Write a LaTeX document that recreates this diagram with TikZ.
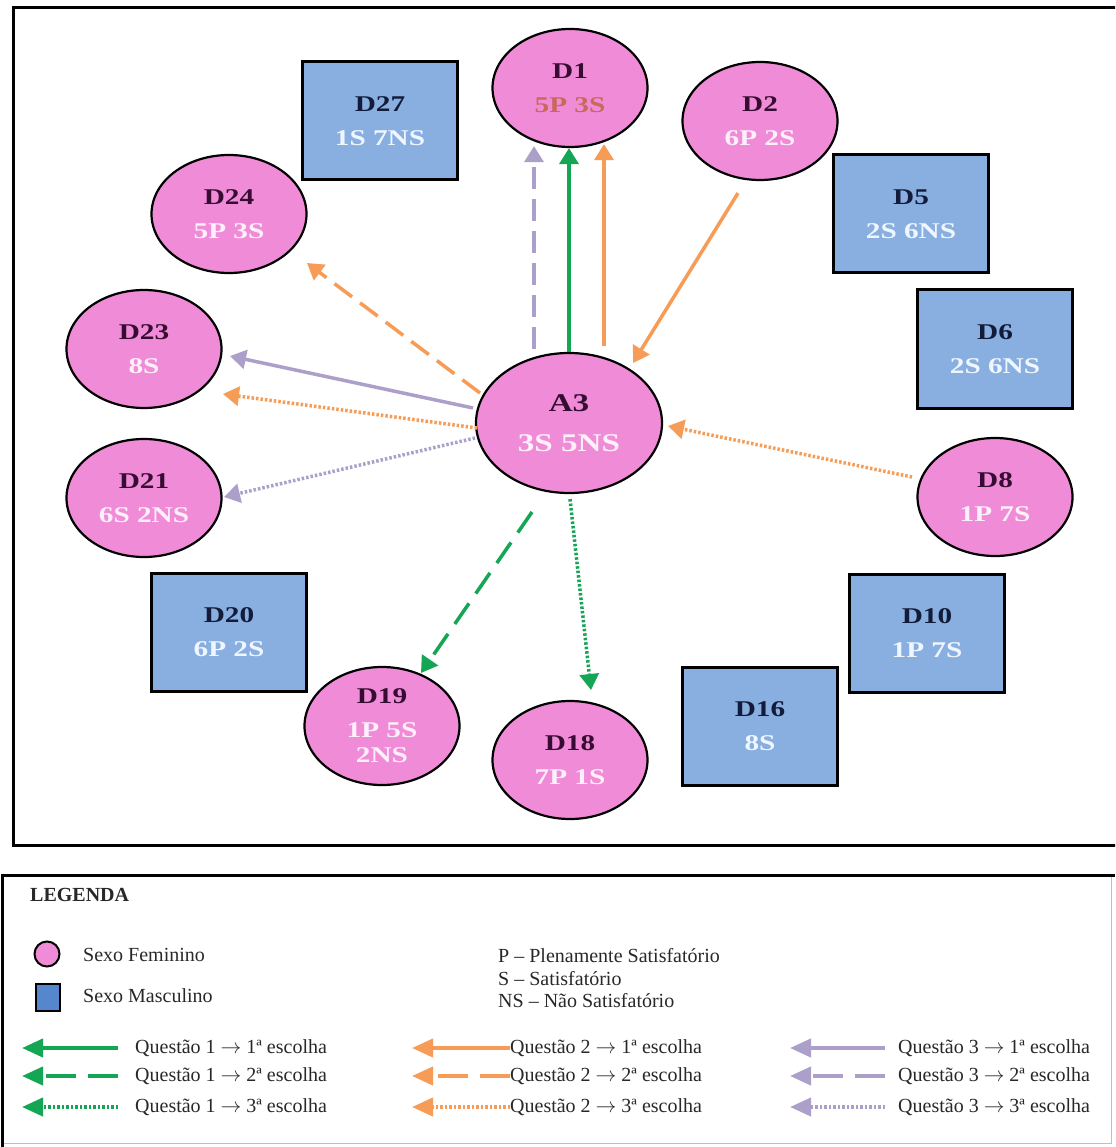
\documentclass[tikz,border=0pt]{standalone}
\usepackage{fontspec}
\setmainfont{Liberation Serif}
\newfontfamily\nodefont[FakeStretch=1.3]{Liberation Serif}
\usetikzlibrary{shapes.geometric,arrows.meta,calc}
\definecolor{pinkf}{RGB}{240,140,215}
\definecolor{bluef}{RGB}{137,175,225}
\definecolor{legblue}{RGB}{86,135,205}
\definecolor{ttlpink}{RGB}{55,12,50}
\definecolor{ttlblue}{RGB}{18,28,58}
\definecolor{subpink}{RGB}{253,240,250}
\definecolor{subblue}{RGB}{240,246,255}
\definecolor{subred}{RGB}{200,105,90}
\definecolor{qgreen}{RGB}{20,165,85}
\definecolor{qorange}{RGB}{246,156,86}
\definecolor{qpurple}{RGB}{172,160,202}
\definecolor{legtext}{RGB}{40,40,40}
\newcommand\femtxt[2]{\textcolor{ttlpink}{#1}\\\textcolor{subpink}{#2}}
\newcommand\mastxt[2]{\textcolor{ttlblue}{#1}\\\textcolor{subblue}{#2}}
\newcommand\qarr{$\rightarrow$}
\begin{document}
\begin{tikzpicture}[x=1pt,y=-1pt,
  fem/.style={ellipse, draw=black, line width=2.2pt, fill=pinkf,
    minimum width=155pt, minimum height=118pt, inner sep=0pt, align=center,
    font=\nodefont\bfseries\fontsize{22.5}{34}\selectfont},
  masc/.style={rectangle, draw=black, line width=3pt, fill=bluef,
    minimum width=155pt, minimum height=118pt, inner sep=0pt, align=center,
    font=\nodefont\bfseries\fontsize{22.5}{34}\selectfont},
  conn/.style={line width=3.5pt, -{Triangle[length=16pt,width=19pt]}},
  longdash/.style={dash pattern=on 22pt off 10pt},
  fine/.style={dash pattern=on 2.5pt off 2pt},
  legarrow/.style={line width=4pt, -{Triangle[length=21pt,width=18pt]}},
  legdash/.style={dash pattern=on 30pt off 12pt},
  legtxt/.style={anchor=west, inner sep=0pt, text=legtext,
    font=\fontsize{20}{23}\selectfont}
]
\useasboundingbox (0,0) rectangle (1115,1147);
\clip (0,0) rectangle (1115,1147);
\fill[white] (0,0) rectangle (1115,1147);

% main frame
\draw[line width=3pt] (13,8) rectangle (1125,845);

% nodes
\node[fem] (D1) at (570,88) {\textcolor{ttlpink}{D1}\\\textcolor{subred}{5P 3S}};
\node[fem] (D2) at (760,121) {\femtxt{D2}{6P 2S}};
\node[masc] (D27) at (380,121) {\mastxt{D27}{1S 7NS}};
\node[fem] (D24) at (229,214) {\femtxt{D24}{5P 3S}};
\node[masc] (D5) at (911,214) {\mastxt{D5}{2S 6NS}};
\node[fem] (D23) at (144,349) {\femtxt{D23}{8S}};
\node[masc] (D6) at (995,349) {\mastxt{D6}{2S 6NS}};
\node[fem, minimum width=186pt, minimum height=140pt,
  font=\nodefont\bfseries\fontsize{25.5}{40}\selectfont] (A3) at (569,423) {\femtxt{A3}{3S 5NS}};
\node[fem] (D21) at (144,498) {\femtxt{D21}{6S 2NS}};
\node[fem] (D8) at (995,497) {\femtxt{D8}{1P 7S}};
\node[masc] (D20) at (229,632) {\mastxt{D20}{6P 2S}};
\node[masc] (D10) at (927,633) {\mastxt{D10}{1P 7S}};
\node[masc] (D16) at (760,726) {\mastxt{D16}{8S}};
\node[fem] (D19) at (382,726) {\textcolor{ttlpink}{D19}\\\textcolor{subpink}{1P 5S}\\[-9pt]\textcolor{subpink}{2NS}};
\node[fem] (D18) at (570,760) {\femtxt{D18}{7P 1S}};

% connectors
\draw[conn, qgreen] (A3.north) -- (A3.north |- D1.south);
\draw[conn, qorange] ($(A3.north)+(35,-6)$) -- ($(D1.south)+(34,-4)$);
\draw[conn, qpurple, longdash] ($(A3.north)+(-35,-3)$) -- ($(D1.south)+(-36,-2)$);
\draw[conn, qorange] ($(D2.south)+(-22,12)$) -- ($(A3)+(64,-60)$);
\draw[conn, qorange, longdash] ($(A3)+(-89,-30)$) -- ($(D24)+(78,49)$);
\draw[conn, qpurple] ($(A3)+(-96,-15)$) -- ($(D23)+(86,7)$);
\draw[conn, qorange, fine] ($(A3)+(-92,5)$) -- ($(D23)+(79,45)$);
\draw[conn, qpurple, fine] ($(A3)+(-94,15)$) -- ($(D21)+(80,-1)$);
\draw[conn, qorange, fine] ($(D8)+(-83,-20)$) -- ($(A3)+(99,3)$);
\draw[conn, qgreen, dash pattern=on 25pt off 12pt] ($(A3)+(-37,89)$) -- ($(D19)+(39,-53)$);
\draw[conn, qgreen, fine] ($(A3.south)+(1,5)$) -- ($(D18)+(21,-70)$);

% legend frame
\draw[black!25, line width=1pt] (1111,875) -- (1111,1143) -- (2,1143);
\draw[line width=3pt] (2,1150) -- (2,875) -- (1115,875);

\node[anchor=west, inner sep=0pt, text=legtext,
  font=\bfseries\fontsize{20}{23}\selectfont] (leg) at (30,895) {LEGENDA};
\node[circle, draw=black, line width=2pt, fill=pinkf, minimum size=25pt, inner sep=0pt] (lgf) at (47,954) {};
\node[rectangle, draw=black, line width=2pt, fill=legblue, minimum width=24pt, minimum height=27pt, inner sep=0pt] (lgm) at (48,997) {};
\node[legtxt] (tfem) at (83,955) {Sexo Feminino};
\node[legtxt] (tmas) at (83,996) {Sexo Masculino};
\node[legtxt] (tp) at (498,956) {P – Plenamente Satisfatório};
\node[legtxt] (ts) at (498,979) {S – Satisfatório};
\node[legtxt] (tns) at (498,1001) {NS – Não Satisfatório};

% legend rows
\node[legtxt] (q11) at (135,1048) {Questão 1 \qarr{} 1ª escolha};
\node[legtxt] (q12) at (135,1076) {Questão 1 \qarr{} 2ª escolha};
\node[legtxt] (q13) at (135,1107) {Questão 1 \qarr{} 3ª escolha};
\node[legtxt] (q21) at (510,1048) {Questão 2 \qarr{} 1ª escolha};
\node[legtxt] (q22) at (510,1076) {Questão 2 \qarr{} 2ª escolha};
\node[legtxt] (q23) at (510,1107) {Questão 2 \qarr{} 3ª escolha};
\node[legtxt] (q31) at (898,1048) {Questão 3 \qarr{} 1ª escolha};
\node[legtxt] (q32) at (898,1076) {Questão 3 \qarr{} 2ª escolha};
\node[legtxt] (q33) at (898,1107) {Questão 3 \qarr{} 3ª escolha};

\coordinate (a11) at (22,1048); \coordinate (b11) at (118,1048);
\coordinate (a12) at (22,1076); \coordinate (b12) at (118,1076);
\coordinate (a13) at (22,1107); \coordinate (b13) at (118,1107);
\coordinate (a21) at (412,1048);
\coordinate (a22) at (412,1076);
\coordinate (a23) at (412,1107);
\coordinate (a31) at (790,1048); \coordinate (b31) at (885,1048);
\coordinate (a32) at (790,1076); \coordinate (b32) at (885,1076);
\coordinate (a33) at (790,1107); \coordinate (b33) at (885,1107);

\draw[legarrow, qgreen] (b11) -- (a11);
\draw[legarrow, qgreen, legdash] (b12) -- (a12);
\draw[legarrow, qgreen, fine] (b13) -- (a13);
\draw[legarrow, qorange] (q21.west) -- (a21);
\draw[legarrow, qorange, legdash] (q22.west) -- (a22);
\draw[legarrow, qorange, fine] (q23.west) -- (a23);
\draw[legarrow, qpurple] (b31) -- (a31);
\draw[legarrow, qpurple, legdash] (b32) -- (a32);
\draw[legarrow, qpurple, fine] (b33) -- (a33);
\end{tikzpicture}
\end{document}
